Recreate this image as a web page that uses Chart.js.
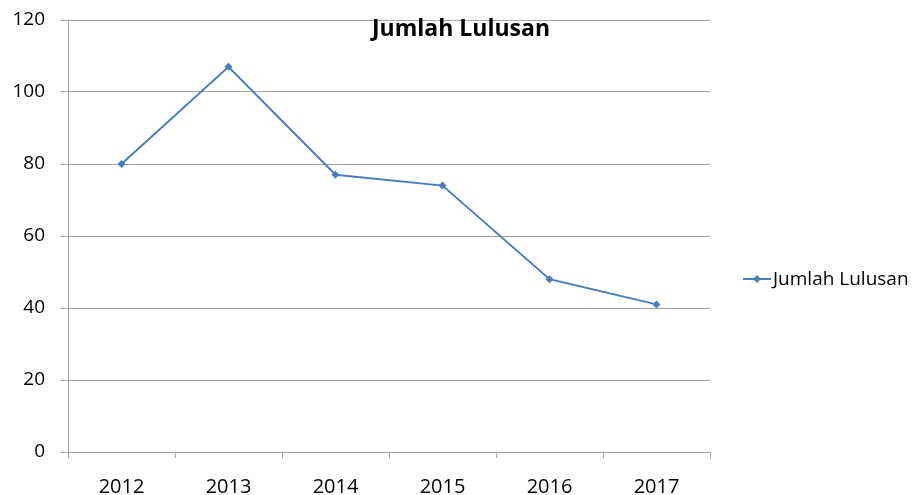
<!DOCTYPE html>
<html>
<head>
<meta charset="utf-8">
<script src="https://cdn.jsdelivr.net/npm/chart.js@4"></script>
<style>
  html, body { margin: 0; padding: 0; background: #fff; }
  #wrap { width: 924px; height: 495px; }
</style>
</head>
<body>
<div id="wrap"><canvas id="myChart" width="924" height="495"></canvas></div>
<script>
const years = ['2012', '2013', '2014', '2015', '2016', '2017'];
const lulusan = [80, 107, 77, 74, 48, 41];
const seriesName = 'Jumlah Lulusan';
const lineColor = '#4a7ebb';
const gridColor = '#a6a6a6';
const fontFam = '"Open Sans", "DejaVu Sans", sans-serif';

// title sits inside the plot, legend drawn by hand on the right
const extras = {
  id: 'extras',
  afterDraw(chart) {
    const c = chart.ctx;
    c.save();
    c.fillStyle = '#000';
    c.font = 'bold 23px ' + fontFam;
    c.textAlign = 'center';
    c.textBaseline = 'middle';
    c.fillText(seriesName, 461, 29);

    // legend
    c.strokeStyle = lineColor;
    c.lineWidth = 2;
    c.beginPath();
    c.moveTo(743, 279);
    c.lineTo(771, 279);
    c.stroke();
    c.fillStyle = lineColor;
    c.beginPath();
    c.moveTo(757, 275);
    c.lineTo(761, 279);
    c.lineTo(757, 283);
    c.lineTo(753, 279);
    c.closePath();
    c.fill();
    c.fillStyle = '#000';
    c.font = '19px ' + fontFam;
    c.textAlign = 'left';
    c.fillText(seriesName, 773, 280);
    c.restore();
  }
};

const ctx = document.getElementById('myChart').getContext('2d');
const myChart = new Chart(ctx, {
  type: 'line',
  data: {
    labels: years,
    datasets: [{
      label: seriesName,
      data: lulusan,
      borderColor: lineColor,
      backgroundColor: lineColor,
      borderWidth: 2,
      pointStyle: 'rectRot',
      pointRadius: 4,
      pointBorderWidth: 0,
      tension: 0
    }]
  },
  options: {
    responsive: false,
    animation: false,
    layout: { padding: { left: 0, right: 214, top: 20, bottom: 0 } },
    plugins: {
      legend: { display: false },
      title: { display: false },
      tooltip: { enabled: false }
    },
    scales: {
      x: {
        offset: true,
        grid: {
          offset: true,
          drawOnChartArea: false,
          drawTicks: true,
          tickLength: 6,
          color: gridColor
        },
        border: { color: gridColor, width: 1 },
        ticks: { color: '#000', padding: 17, maxRotation: 0, font: { size: 20, family: fontFam } },
        afterFit(scale) {
          scale.height = 43;
          scale.paddingLeft = 0;
          scale.paddingRight = 0;
        }
      },
      y: {
        min: 0,
        max: 120,
        ticks: { stepSize: 20, color: '#000', padding: 16, font: { size: 19, family: fontFam } },
        grid: { color: gridColor, tickLength: 7 },
        border: { color: gridColor, width: 1 },
        afterFit(scale) {
          scale.width = 68;
          scale.paddingTop = 0;
          scale.paddingBottom = 0;
        }
      }
    }
  },
  plugins: [extras]
});
</script>
</body>
</html>
